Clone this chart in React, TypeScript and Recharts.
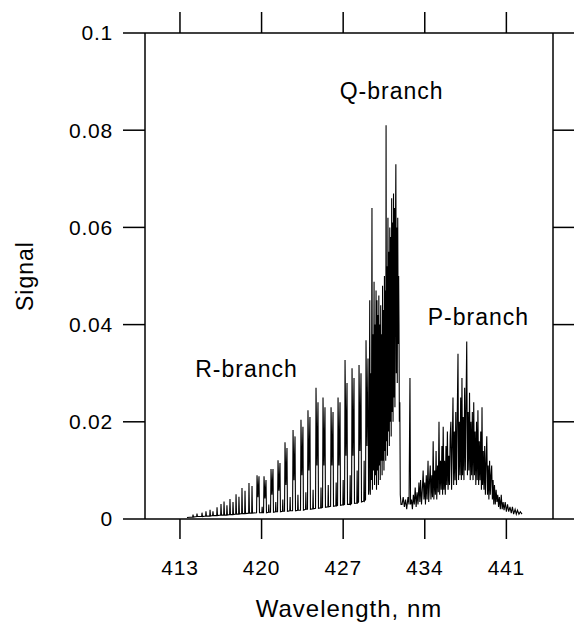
import React from 'react';
import { LineChart, Line, XAxis, YAxis, ReferenceDot } from 'recharts';

// Wavelength (nm), signal pairs
const rBranch: [number, number][] = [
  [413.6, 0.0003], [414.09, 0.0004], [414.12, 0.0009], [414.16, 0.0004],
  [414.43, 0.0005], [414.46, 0.0011], [414.5, 0.0005],
  [414.86, 0.0005], [414.89, 0.0013], [414.93, 0.0005],
  [415.2, 0.0006], [415.23, 0.0016], [415.27, 0.0006],
  [415.55, 0.0006], [415.58, 0.0019], [415.62, 0.0006],
  [415.8, 0.0007], [415.83, 0.0016], [415.87, 0.0007],
  [416.15, 0.0007], [416.18, 0.0024], [416.22, 0.0007],
  [416.49, 0.0008], [416.52, 0.0031], [416.56, 0.0008],
  [416.75, 0.0008], [416.78, 0.0036], [416.82, 0.0008],
  [417.0, 0.0008], [417.03, 0.0028], [417.07, 0.0008],
  [417.26, 0.0009], [417.29, 0.0041], [417.33, 0.0009],
  [417.52, 0.0009], [417.55, 0.0035], [417.59, 0.0009],
  [417.78, 0.001], [417.81, 0.0051], [417.85, 0.001],
  [418.03, 0.001], [418.06, 0.0046], [418.1, 0.001],
  [418.29, 0.0011], [418.32, 0.0064], [418.36, 0.0011],
  [418.55, 0.0011], [418.58, 0.0058], [418.62, 0.0011],
  [418.89, 0.0012], [418.92, 0.0074], [418.96, 0.0012],
  [419.15, 0.0012], [419.18, 0.0068], [419.22, 0.0012],
  [419.57, 0.0013], [419.61, 0.009], [419.69, 0.0045], [419.78, 0.0088], [419.82, 0.0013],
  [420.02, 0.0013], [420.05, 0.0025], [420.08, 0.0013],
  [420.17, 0.0013], [420.21, 0.0088], [420.29, 0.0042], [420.38, 0.008], [420.42, 0.0013],
  [420.59, 0.0014], [420.62, 0.003], [420.65, 0.0014],
  [420.77, 0.0014], [420.81, 0.0103], [420.89, 0.005], [420.98, 0.0103], [421.02, 0.0014],
  [421.19, 0.0015], [421.22, 0.0035], [421.25, 0.0015],
  [421.37, 0.0015], [421.41, 0.0121], [421.49, 0.0058], [421.58, 0.0115], [421.62, 0.0015],
  [421.79, 0.0016], [421.82, 0.004], [421.85, 0.0016],
  [421.97, 0.0016], [422.01, 0.0158], [422.09, 0.007], [422.18, 0.0146], [422.22, 0.0016],
  [422.42, 0.0017], [422.45, 0.0045], [422.48, 0.0017],
  [422.66, 0.0017], [422.7, 0.0183], [422.78, 0.008], [422.87, 0.017], [422.91, 0.0017],
  [423.09, 0.0018], [423.12, 0.005], [423.15, 0.0018],
  [423.34, 0.0018], [423.38, 0.0204], [423.46, 0.009], [423.55, 0.019], [423.59, 0.0018],
  [423.77, 0.002], [423.8, 0.0055], [423.83, 0.002],
  [423.94, 0.002], [423.98, 0.0224], [424.06, 0.01], [424.15, 0.021], [424.19, 0.002],
  [424.39, 0.0021], [424.42, 0.006], [424.45, 0.0021],
  [424.63, 0.0022], [424.67, 0.027], [424.75, 0.011], [424.84, 0.024], [424.88, 0.0022],
  [425.07, 0.0023], [425.1, 0.0065], [425.13, 0.0023],
  [425.23, 0.0024], [425.27, 0.025], [425.35, 0.011], [425.44, 0.023], [425.48, 0.0024],
  [425.69, 0.0025], [425.72, 0.007], [425.75, 0.0025],
  [425.92, 0.0026], [425.96, 0.023], [426.04, 0.011], [426.13, 0.022], [426.17, 0.0026],
  [426.37, 0.0027], [426.4, 0.0075], [426.43, 0.0027],
  [426.52, 0.0028], [426.56, 0.025], [426.64, 0.011], [426.73, 0.024], [426.77, 0.0028],
  [426.97, 0.0029], [427.0, 0.008], [427.03, 0.0029],
  [427.12, 0.003], [427.16, 0.0327], [427.24, 0.013], [427.33, 0.028], [427.37, 0.003],
  [427.57, 0.003], [427.6, 0.009], [427.63, 0.003],
  [427.72, 0.0032], [427.76, 0.031], [427.84, 0.013], [427.93, 0.029], [427.97, 0.0032],
  [428.17, 0.0033], [428.2, 0.01], [428.23, 0.0033],
  [428.32, 0.0035], [428.36, 0.0317], [428.44, 0.014], [428.53, 0.03], [428.57, 0.0035],
  [428.77, 0.0037], [428.8, 0.012], [428.83, 0.0037],
  [428.92, 0.004], [428.96, 0.0368], [429.04, 0.015], [429.13, 0.033], [429.18, 0.005],
  [429.22, 0.006],
];

const qBranch: [number, number][] = [
  [429.28, 0.045], [429.33, 0.005], [429.38, 0.03], [429.42, 0.008],
  [429.47, 0.064], [429.51, 0.006], [429.56, 0.038], [429.6, 0.01],
  [429.65, 0.0488], [429.69, 0.007], [429.73, 0.04], [429.77, 0.009],
  [429.82, 0.047], [429.86, 0.006], [429.9, 0.045], [429.94, 0.01],
  [429.98, 0.042], [430.02, 0.007], [430.06, 0.046], [430.1, 0.011],
  [430.14, 0.04], [430.18, 0.008], [430.22, 0.044], [430.26, 0.012],
  [430.3, 0.038], [430.34, 0.009], [430.38, 0.048], [430.42, 0.012],
  [430.46, 0.043], [430.5, 0.01], [430.54, 0.05], [430.58, 0.014],
  [430.62, 0.047], [430.65, 0.012], [430.68, 0.081], [430.72, 0.016],
  [430.76, 0.052], [430.8, 0.013], [430.84, 0.062], [430.88, 0.018],
  [430.92, 0.055], [430.96, 0.015], [431.0, 0.06], [431.04, 0.02],
  [431.08, 0.058], [431.12, 0.017], [431.16, 0.066], [431.2, 0.022],
  [431.24, 0.061], [431.28, 0.02], [431.32, 0.067], [431.36, 0.025],
  [431.4, 0.064], [431.44, 0.023], [431.48, 0.057], [431.52, 0.073],
  [431.56, 0.03], [431.6, 0.06], [431.64, 0.028], [431.68, 0.062],
  [431.72, 0.036], [431.76, 0.05], [431.79, 0.04], [431.82, 0.02],
  [431.86, 0.024], [431.9, 0.005], [431.96, 0.003],
];

const pBranch: [number, number][] = [
  [432.05, 0.003], [432.15, 0.0045], [432.25, 0.0025], [432.35, 0.004],
  [432.45, 0.002], [432.56, 0.0045], [432.65, 0.003], [432.73, 0.029],
  [432.78, 0.003], [432.86, 0.004], [432.94, 0.002], [433.02, 0.005],
  [433.1, 0.003], [433.18, 0.0065], [433.26, 0.0025], [433.34, 0.0055],
  [433.42, 0.003], [433.5, 0.0075], [433.58, 0.0035], [433.64, 0.008],
  [433.72, 0.003], [433.8, 0.0065], [433.86, 0.01], [433.93, 0.004],
  [434.0, 0.0075], [434.06, 0.003], [434.13, 0.009], [434.2, 0.004],
  [434.28, 0.012], [434.34, 0.0035], [434.41, 0.008], [434.47, 0.011],
  [434.53, 0.004], [434.6, 0.009], [434.66, 0.0045], [434.72, 0.016],
  [434.78, 0.004], [434.85, 0.01], [434.91, 0.005], [434.97, 0.014],
  [435.03, 0.004], [435.1, 0.011], [435.16, 0.0055], [435.22, 0.02],
  [435.28, 0.005], [435.35, 0.012], [435.41, 0.006], [435.47, 0.015],
  [435.53, 0.005], [435.58, 0.019], [435.64, 0.006], [435.7, 0.012],
  [435.76, 0.005], [435.82, 0.015], [435.88, 0.007], [435.94, 0.018],
  [436.0, 0.006], [436.06, 0.013], [436.12, 0.007], [436.18, 0.017],
  [436.24, 0.02], [436.3, 0.006], [436.36, 0.015], [436.42, 0.025],
  [436.48, 0.007], [436.54, 0.018], [436.6, 0.008], [436.66, 0.022],
  [436.72, 0.007], [436.78, 0.02], [436.85, 0.034], [436.9, 0.008],
  [436.96, 0.02], [437.02, 0.009], [437.08, 0.025], [437.14, 0.008],
  [437.19, 0.029], [437.24, 0.009], [437.3, 0.021], [437.36, 0.008],
  [437.42, 0.027], [437.48, 0.01], [437.54, 0.024], [437.6, 0.0365],
  [437.66, 0.009], [437.72, 0.022], [437.78, 0.01], [437.84, 0.026],
  [437.9, 0.008], [437.96, 0.02], [438.02, 0.009], [438.08, 0.022],
  [438.14, 0.008], [438.2, 0.024], [438.26, 0.009], [438.32, 0.018],
  [438.38, 0.007], [438.44, 0.02], [438.5, 0.008], [438.56, 0.0224],
  [438.62, 0.007], [438.68, 0.016], [438.74, 0.008], [438.8, 0.018],
  [438.86, 0.006], [438.91, 0.023], [438.96, 0.007], [439.02, 0.014],
  [439.08, 0.006], [439.14, 0.015], [439.2, 0.005], [439.26, 0.012],
  [439.32, 0.017], [439.38, 0.005], [439.44, 0.011], [439.5, 0.004],
  [439.56, 0.012], [439.62, 0.005], [439.68, 0.009], [439.74, 0.011],
  [439.8, 0.004], [439.86, 0.008], [439.92, 0.003], [439.98, 0.007],
  [440.05, 0.003], [440.12, 0.006], [440.19, 0.0035], [440.26, 0.005],
  [440.33, 0.0025], [440.4, 0.0045], [440.48, 0.002], [440.56, 0.005],
  [440.64, 0.002], [440.72, 0.0035], [440.8, 0.0018], [440.9, 0.0035],
  [441.0, 0.0015], [441.1, 0.003], [441.2, 0.0015], [441.31, 0.0025],
  [441.42, 0.0012], [441.52, 0.0025], [441.62, 0.001], [441.75, 0.002],
  [441.85, 0.001], [441.95, 0.0018], [442.08, 0.001], [442.2, 0.0015],
  [442.34, 0.001],
];

const xTicks = [413, 420, 427, 434, 441];
const yTicks = [0, 0.02, 0.04, 0.06, 0.08, 0.1];
const yTickLabels = ['0', '0.02', '0.04', '0.06', '0.08', '0.1'];

const annotations = [
  { text: 'Q-branch', nm: 431.16, signal: 0.0882 },
  { text: 'P-branch', nm: 438.6, signal: 0.0417 },
  { text: 'R-branch', nm: 418.71, signal: 0.031 },
];

const data = [...rBranch, ...qBranch, ...pBranch].map(([nm, signal]) => ({ nm, signal }));

const FONT = '"Liberation Sans", Arial, Helvetica, sans-serif';
const tickStyle = { fontFamily: FONT, fontSize: 21, fill: '#000', letterSpacing: 0.8 };
const axisStroke = { stroke: '#000', strokeWidth: 1.5 };
const noLabel = () => '';

export default function App() {
  return (
    <div style={{ position: 'absolute', left: 0, top: 0, background: '#fff' }}>
      <LineChart width={574} height={622} data={data} margin={{ top: 0, right: 0, bottom: 0, left: 0 }}>
        <XAxis
          xAxisId="bottom"
          dataKey="nm"
          type="number"
          domain={[410, 445]}
          ticks={xTicks}
          allowDataOverflow
          height={103}
          tickSize={20}
          tickMargin={21}
          axisLine={axisStroke}
          tickLine={axisStroke}
          tick={tickStyle}
          label={{
            value: 'Wavelength, nm',
            position: 'insideBottom',
            offset: 5,
            style: { fontFamily: FONT, fontSize: 24, fill: '#000', letterSpacing: 1 },
          }}
        />
        <XAxis
          xAxisId="top"
          orientation="top"
          dataKey="nm"
          type="number"
          domain={[410, 445]}
          ticks={xTicks}
          allowDataOverflow
          height={33}
          tickSize={21}
          axisLine={axisStroke}
          tickLine={axisStroke}
          tickFormatter={noLabel}
        />
        <YAxis
          yAxisId="left"
          type="number"
          domain={[0, 0.1]}
          ticks={yTicks}
          allowDataOverflow
          width={145}
          tickSize={22}
          tickMargin={10}
          axisLine={axisStroke}
          tickLine={axisStroke}
          tick={tickStyle}
          tickFormatter={(v: number) => yTickLabels[yTicks.indexOf(v)] ?? String(v)}
          label={{
            value: 'Signal',
            position: 'insideLeft',
            offset: 25,
            angle: -90,
            style: { fontFamily: FONT, fontSize: 23, fill: '#000', letterSpacing: 1, textAnchor: 'middle' },
          }}
        />
        <YAxis
          yAxisId="right"
          orientation="right"
          type="number"
          domain={[0, 0.1]}
          ticks={yTicks}
          allowDataOverflow
          width={21}
          tickSize={21}
          axisLine={axisStroke}
          tickLine={axisStroke}
          tickFormatter={noLabel}
        />
        <Line
          xAxisId="bottom"
          yAxisId="left"
          type="linear"
          dataKey="signal"
          stroke="#000"
          strokeWidth={1.1}
          dot={false}
          isAnimationActive={false}
        />
        {annotations.map((a) => (
          <ReferenceDot
            key={a.text}
            xAxisId="bottom"
            yAxisId="left"
            x={a.nm}
            y={a.signal}
            r={1}
            fill="none"
            stroke="none"
            label={{
              value: a.text,
              position: 'center',
              style: { fontFamily: FONT, fontSize: 23, fill: '#000', letterSpacing: 1 },
            }}
          />
        ))}
      </LineChart>
    </div>
  );
}
